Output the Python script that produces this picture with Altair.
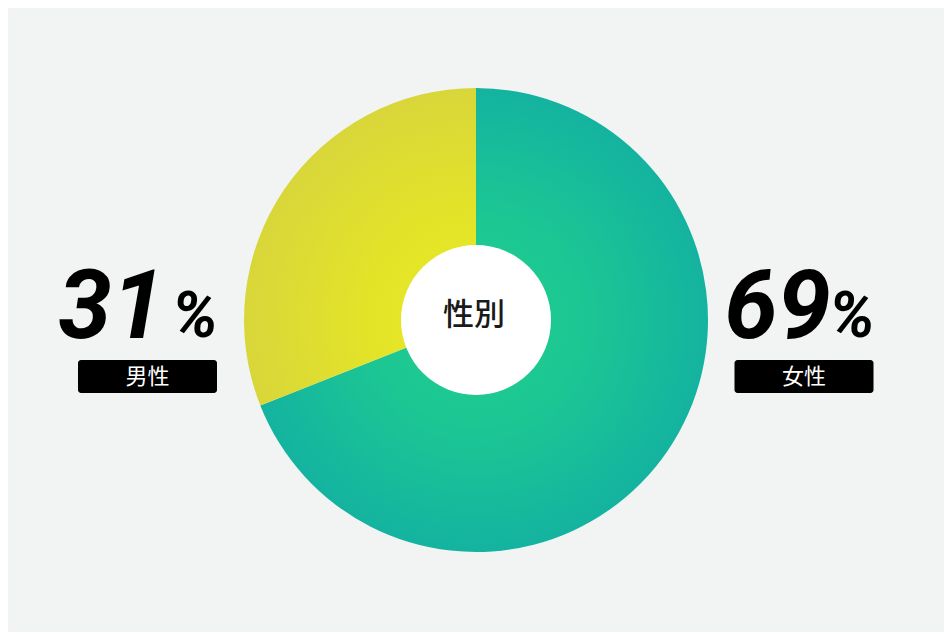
import math
import altair as alt
import pandas as pd

# ---- data ----
categories = ["女性", "男性"]
values = [69, 31]
order = [0, 1]
center_title = "性別"

# ---- styles ----
W, H = 936, 624
R_OUT, R_IN = 232, 75
BG = "#f2f4f3"
stops_by_cat = {
    "女性": ["#20cf8c", "#1cc793", "#14b3a0"],
    "男性": ["#e8ea22", "#e3e428", "#d9d63a"],
}
NUM_FONT = "Liberation Sans Narrow, Roboto, sans-serif"
JP_FONT = "Noto Sans CJK JP"

df = pd.DataFrame({"gender": categories, "value": values, "order": order})
df["num"] = df["value"].astype(str)
df["pct"] = "%"

total = float(sum(values))


def sector_bbox(a0, a1, r):
    # bbox (relative to pie centre) of a sector from angle a0..a1 (clockwise from 12 o'clock)
    pts = [(0.0, 0.0)]
    n = 2000
    for i in range(n + 1):
        a = a0 + (a1 - a0) * i / n
        pts.append((r * math.sin(a), -r * math.cos(a)))
    xs = [p[0] for p in pts]
    ys = [p[1] for p in pts]
    return min(xs), max(xs), min(ys), max(ys)


def radial_for(a0, a1, cols):
    x0, x1, y0, y1 = sector_bbox(a0, a1, R_OUT)
    w, h = x1 - x0, y1 - y0
    s = max(w, h)
    bcx, bcy = (x0 + x1) / 2, (y0 + y1) / 2
    cx = 0.5 + (0 - bcx) / s
    cy = 0.5 + (0 - bcy) / s
    rr = R_OUT / s
    return alt.Gradient(
        gradient="radial",
        stops=[
            alt.GradientStop(offset=0.0, color=cols[0]),
            alt.GradientStop(offset=0.45, color=cols[1]),
            alt.GradientStop(offset=1.0, color=cols[2]),
        ],
        x1=cx, y1=cy, r1=0, x2=cx, y2=cy, r2=rr,
    )


base = alt.Chart(df)
theta_scale = alt.Scale(type="linear", domain=[0, total], range=[0, 2 * math.pi])

layers = []
acc = 0.0
for cat, v in sorted(zip(categories, values), key=lambda t: order[categories.index(t[0])]):
    a0 = acc / total * 2 * math.pi
    a1 = (acc + v) / total * 2 * math.pi
    acc += v
    grad = radial_for(a0, a1, stops_by_cat[cat])
    layers.append(
        base.transform_stack(
            stack="value", as_=["start", "end"], groupby=[],
            sort=[alt.SortField("order", order="ascending")],
        )
        .transform_filter(alt.datum.gender == cat)
        .mark_arc(radius=R_OUT, color=grad, stroke=None)
        .encode(
            theta=alt.Theta("start:Q", scale=theta_scale),
            theta2="end:Q",
        )
    )

hole = (
    base.transform_filter(alt.datum.order == 0)
    .mark_arc(radius=R_IN, color="white")
    .encode(theta=alt.value(0), theta2=alt.value(2 * math.pi))
)

title = (
    base.transform_filter(alt.datum.order == 0)
    .mark_text(text=center_title, font=JP_FONT, fontSize=31, fontWeight=500, color="#1a1a1a",
               align="center", baseline="middle")
    .encode(x=alt.value(W / 2 - 2), y=alt.value(H / 2 - 4))
)

dom = ["男性", "女性"]


def xpos(a, b):
    return alt.X("gender:N", scale=alt.Scale(type="point", domain=dom, range=[a, b], padding=0), axis=None)


box = base.mark_rect(width=139, height=33, cornerRadius=3, color="#000000").encode(
    x=xpos(139.5, 796), y=alt.value(368.5)
)
box_text = base.mark_text(font=JP_FONT, fontSize=22, color="white", align="center",
                          baseline="middle").encode(
    x=xpos(139.5, 796), y=alt.value(369), text="gender:N"
)
num_text = base.mark_text(font=NUM_FONT, fontSize=96, fontWeight="bold", fontStyle="italic",
                          color="#000000", align="right", baseline="alphabetic").encode(
    x=xpos(157, 823), y=alt.value(330), text="num:N"
)
pct_text = base.mark_text(font=NUM_FONT, fontSize=64, fontWeight="bold", fontStyle="italic",
                          color="#000000", align="left", baseline="alphabetic").encode(
    x=xpos(164, 821), y=alt.value(329), text="pct:N"
)

chart = (
    alt.layer(*layers, hole, title, box, box_text, num_text, pct_text)
    .resolve_scale(x="independent")
    .properties(width=W, height=H, background=BG, padding=0,
                autosize=alt.AutoSizeParams(type="none"))
    .configure_view(strokeWidth=0)
)

chart.save("out.html", embed_options={"renderer": "svg", "actions": False})
